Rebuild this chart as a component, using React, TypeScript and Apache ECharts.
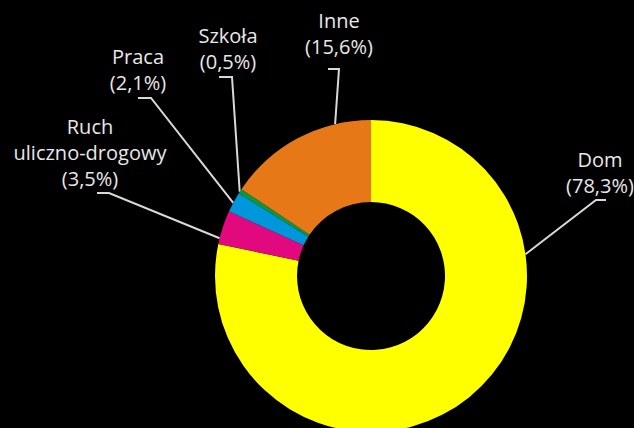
import React, { useEffect, useRef } from "react";
import * as echarts from "echarts";

const categories = ["Dom", "Ruch uliczno-drogowy", "Praca", "Szkoła", "Inne"];
const values = [78.3, 3.5, 2.1, 0.5, 15.6];
const colors = ["#ffff00", "#e2097e", "#0096db", "#0b9640", "#e67817"];

// label layout (pixel positions of label centres, leader elbows / ends, anchor angles on ring)
const labelCenters = [
  [600, 172],
  [90, 152],
  [138, 69],
  [228, 48],
  [339, 33],
];
const elbows = [
  [596, 200, 606],
  [109, 193, 97],
  [151, 98, 138],
  [232, 77, 219],
  [339, 69, 328],
];
const anchorAngles = [82, 284, 298, 302.7, 346.7];

const CX = 371;
const CY = 276;
const R_IN = 74;
const R_OUT = 156;

function fmt(name: string, v: number) {
  return name.replace(" ", "\n") + "\n(" + v.toFixed(1).replace(".", ",") + "%)";
}

export default function App() {
  const ref = useRef<HTMLDivElement>(null);
  useEffect(() => {
    if (!ref.current) return;
    const chart = echarts.init(ref.current, undefined, { renderer: "svg" });
    chart.setOption({
      animation: false,
      backgroundColor: "#000000",
      series: [
        {
          type: "pie",
          center: [CX, CY],
          radius: [R_IN, R_OUT],
          startAngle: 90,
          clockwise: true,
          avoidLabelOverlap: false,
          data: categories.map((c, i) => ({
            name: c,
            value: values[i],
            itemStyle: { color: colors[i] },
          })),
          label: {
            show: true,
            position: "outside",
            formatter: (p: any) => fmt(p.name, p.value),
            color: "#e8e8e8",
            fontFamily: "Open Sans",
            fontSize: 20,
            lineHeight: 26,
            align: "center",
          },
          labelLine: {
            show: true,
            lineStyle: { color: "#d9d9d9", width: 2 },
          },
          labelLayout: (params: any) => {
            const i = params.dataIndex;
            const a = (anchorAngles[i] * Math.PI) / 180;
            const sx = CX + R_OUT * Math.sin(a);
            const sy = CY - R_OUT * Math.cos(a);
            const e = elbows[i];
            return {
              x: labelCenters[i][0],
              y: labelCenters[i][1],
              align: "center",
              verticalAlign: "middle",
              labelLinePoints: [
                [sx, sy],
                [e[0], e[1]],
                [e[2], e[1]],
              ],
            };
          },
          emphasis: { disabled: true },
        },
      ],
    });
    return () => chart.dispose();
  }, []);
  return (
    <div
      ref={ref}
      style={{ position: "fixed", left: 0, top: 0, width: 634, height: 428 }}
    />
  );
}
